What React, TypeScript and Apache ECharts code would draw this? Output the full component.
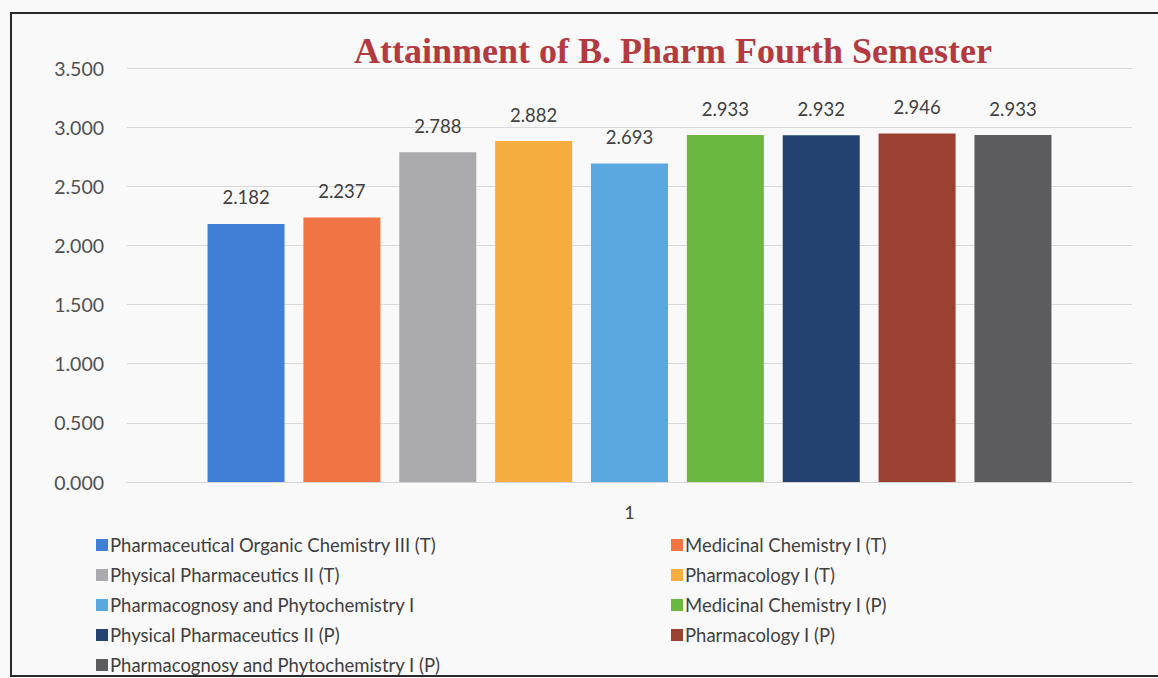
import React, { useEffect, useRef } from "react";
import * as echarts from "echarts";

const categories = ["1"];
const subjects = [
  "Pharmaceutical Organic Chemistry III (T)",
  "Medicinal Chemistry I (T)",
  "Physical Pharmaceutics II (T)",
  "Pharmacology I (T)",
  "Pharmacognosy and Phytochemistry I",
  "Medicinal Chemistry I (P)",
  "Physical Pharmaceutics II (P)",
  "Pharmacology I (P)",
  "Pharmacognosy and Phytochemistry I (P)",
];
const values = [2.182, 2.237, 2.788, 2.882, 2.693, 2.933, 2.932, 2.946, 2.933];
const colors = [
  "#3f7fd6",
  "#f07444",
  "#aaa9ad",
  "#f7ac3f",
  "#5ba8e0",
  "#6bb840",
  "#23426f",
  "#9c4131",
  "#5c5b5e",
];
const yTicks = { min: 0, max: 3.5, interval: 0.5 };

export default function App() {
  const ref = useRef<HTMLDivElement>(null);
  useEffect(() => {
    if (!ref.current) return;
    const chart = echarts.init(ref.current, null, { renderer: "svg" });
    const font = "Lato, 'Open Sans', sans-serif";
    const legendText = { fontFamily: font, fontSize: 18.5, color: "#404040", lineHeight: 20, padding: [0, 0, 0, -3] };
    chart.setOption({
      animation: false,
      backgroundColor: "#f9f9f9",
      title: {
        text: "Attainment of B. Pharm Fourth Semester",
        left: 668,
        textAlign: "center",
        top: 28,
        textStyle: {
          fontFamily: "'Liberation Serif', 'Times New Roman', serif",
          fontWeight: "bold",
          fontSize: 36,
          color: "#b23a40",
        },
      },
      graphic: [
        {
          type: "rect",
          shape: { x: 11, y: 13, width: 1160, height: 663 },
          style: { fill: "none", stroke: "#2a2a2a", lineWidth: 2 },
          silent: true,
        },
      ],
      legend: [
        {
          orient: "vertical",
          left: 91,
          top: 530,
          height: 160,
          icon: "rect",
          itemWidth: 12,
          itemHeight: 12,
          itemGap: 10,
          data: subjects.filter((_, i) => i % 2 === 0),
          textStyle: legendText,
        },
        {
          orient: "vertical",
          left: 666,
          top: 530,
          height: 160,
          icon: "rect",
          itemWidth: 12,
          itemHeight: 12,
          itemGap: 10,
          data: subjects.filter((_, i) => i % 2 === 1),
          textStyle: legendText,
        },
      ],
      grid: { left: 127, right: 26, top: 68, bottom: 196, containLabel: false },
      xAxis: {
        type: "category",
        data: categories,
        axisLine: { lineStyle: { color: "#d4d4d4", width: 1 } },
        axisTick: { show: false },
        axisLabel: { fontFamily: font, fontSize: 18, color: "#404040", margin: 21 },
      },
      yAxis: {
        type: "value",
        min: yTicks.min,
        max: yTicks.max,
        interval: yTicks.interval,
        axisLine: { show: false },
        axisTick: { show: false },
        splitLine: { lineStyle: { color: "#d9d9d9", width: 1 } },
        axisLabel: {
          fontFamily: font,
          fontSize: 19.5,
          color: "#505050",
          margin: 23,
          formatter: (v: number) => v.toFixed(3),
        },
      },
      series: subjects.map((name, i) => ({
        type: "bar",
        name,
        data: [values[i]],
        barWidth: 77,
        barGap: "24.5%",
        itemStyle: { color: colors[i] },
        label: {
          show: true,
          position: "top",
          distance: 17,
          fontFamily: font,
          fontSize: 18.5,
          color: "#404040",
          formatter: (p: any) => p.value.toFixed(3),
        },
      })),
    });
    return () => chart.dispose();
  }, []);
  return (
    <div style={{ position: "fixed", left: 0, top: 0, width: 1158, height: 678 }}>
      <div ref={ref} style={{ width: 1158, height: 678 }} />
    </div>
  );
}
